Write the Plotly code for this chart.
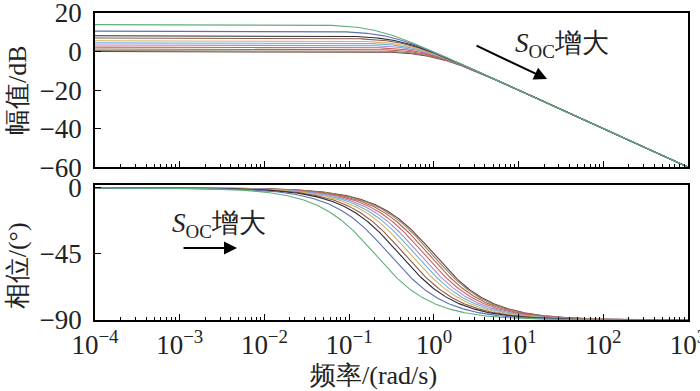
import numpy as np
import plotly.graph_objects as go
from plotly.subplots import make_subplots

# Corner frequency (rad/s) of each curve (phase = -45 deg there); gain = 1/corner so all share the same HF asymptote
corner_freq = [0.20, 0.295, 0.39, 0.447, 0.525, 0.596, 0.676, 0.767, 0.861, 0.944, 1.0]
colors = ["#62ad7c", "#5f6fb4", "#2b2b35", "#8c5a4e", "#dcb05a", "#6cb2dc",
          "#a08fcb", "#d65c5c", "#a86a52", "#8a8a6a", "#6e3a3a"]

x_tick_vals = [1e-4, 1e-3, 1e-2, 1e-1, 1e0, 1e1, 1e2, 1e3]
x_tick_text = ["10<sup>−4</sup>", "10<sup>−3</sup>", "10<sup>−2</sup>", "10<sup>−1</sup>",
               "10<sup>0</sup>", "10<sup>1</sup>", "10<sup>2</sup>", "10<sup>3</sup>"]
mag_ticks = [20, 0, -20, -40, -60]
phase_ticks = [0, -45, -90]

w = np.logspace(-4, 3, 700)

fig = make_subplots(rows=2, cols=1)

# draw in reverse so the green curve ends up on top
for a, c in list(zip(corner_freq, colors))[::-1]:
    h = (1 / a) / (1 + 1j * w / a)
    mag = 20 * np.log10(np.abs(h))
    ph = np.degrees(np.angle(h))
    fig.add_trace(go.Scatter(x=w, y=mag, mode="lines", line=dict(color=c, width=1.1),
                             showlegend=False, hoverinfo="skip"), row=1, col=1)
    fig.add_trace(go.Scatter(x=w, y=ph, mode="lines", line=dict(color=c, width=1.1),
                             showlegend=False, hoverinfo="skip"), row=2, col=1)

FONT = "'Liberation Serif', 'Times New Roman', Times, serif"
TXT = "#222"
minor_vals = [m * 10 ** e for e in range(-4, 3) for m in range(2, 10)]

axis_common = dict(showline=True, linecolor="black", linewidth=1.8, mirror=True,
                   showgrid=False, zeroline=False, ticks="inside", tickcolor="black",
                   tickwidth=1.2, automargin=False, ticklabeloverflow="allow",
                   tickfont=dict(family=FONT, size=27, color=TXT))

fig.update_xaxes(type="log", range=[-4, 3], tickvals=x_tick_vals, ticktext=x_tick_text,
                 ticklen=6, minor=dict(tickvals=minor_vals, ticks="inside", ticklen=3,
                                       tickcolor="black", tickwidth=1, showgrid=False),
                 **axis_common)
fig.update_xaxes(showticklabels=False, row=1, col=1)

fig.update_yaxes(range=[-60, 20], tickvals=mag_ticks,
                 ticktext=[str(v).replace("-", "−") for v in mag_ticks], ticklen=6,
                 ticklabelstandoff=6, row=1, col=1, **axis_common)
fig.update_yaxes(range=[-90, 2], tickvals=phase_ticks,
                 ticktext=[str(v).replace("-", "−") for v in phase_ticks], ticklen=6,
                 ticklabelstandoff=6, row=2, col=1, **axis_common)

fig.update_layout(
    width=700, height=391,
    margin=dict(l=95, r=12, t=13, b=71, autoexpand=False),
    paper_bgcolor="white", plot_bgcolor="white",
    yaxis=dict(domain=[0.498, 1.0]),
    yaxis2=dict(domain=[0.0, 0.440]),
    font=dict(family=FONT, color=TXT),
)

# axis titles
fig.add_annotation(xref="paper", yref="paper", x=-0.1315, y=0.749, text="幅值/dB",
                   textangle=-90, showarrow=False, xanchor="center", yanchor="middle",
                   font=dict(family=FONT, size=26, color=TXT))
fig.add_annotation(xref="paper", yref="paper", x=-0.1315, y=0.175, text="相位/(°)",
                   textangle=-90, showarrow=False, xanchor="center", yanchor="middle",
                   font=dict(family=FONT, size=26, color=TXT))
fig.add_annotation(xref="paper", yref="paper", x=0.469, y=-0.182, text="频率/(rad/s)",
                   showarrow=False, xanchor="center", yanchor="middle",
                   font=dict(family=FONT, size=26, color=TXT))

# arrows and "S_OC 增大" labels
fig.add_annotation(xref="x", yref="y", x=np.log10(21.7), y=-14.3, ax=np.log10(3.06), ay=3.4,
                   axref="x", ayref="y", showarrow=True, arrowhead=2, arrowsize=1.3,
                   arrowwidth=2, arrowcolor="black", text="")
fig.add_annotation(xref="x", yref="y", x=1.513, y=3.4, xanchor="center", yanchor="middle",
                   text="<i>S</i><sub>OC</sub>增大", showarrow=False,
                   font=dict(family=FONT, size=27, color=TXT))
fig.add_annotation(xref="x2", yref="y2", x=-2.324, y=-40.9, ax=-2.973, ay=-40.9,
                   axref="x2", ayref="y2", showarrow=True, arrowhead=2, arrowsize=1.3,
                   arrowwidth=2, arrowcolor="black", text="")
fig.add_annotation(xref="x2", yref="y2", x=-2.54, y=-25.3, xanchor="center", yanchor="middle",
                   text="<i>S</i><sub>OC</sub>增大", showarrow=False,
                   font=dict(family=FONT, size=27, color=TXT))

fig.write_html("out.html", config={"displayModeBar": False},
               post_script="document.body.style.margin='0';document.body.style.overflow='hidden';")
